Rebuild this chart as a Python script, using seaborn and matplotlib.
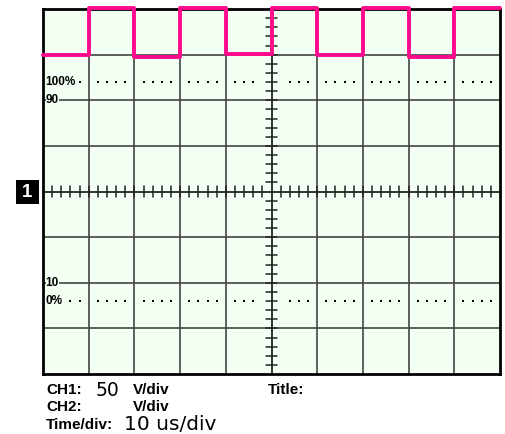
import matplotlib
matplotlib.use("Agg")
import matplotlib.pyplot as plt
import seaborn as sns
import pandas as pd
import numpy as np
from matplotlib.patches import Rectangle

sns.set_theme(style="white")
plt.rcParams['font.family'] = ['Liberation Sans', 'DejaVu Sans']

# ---- data (time in divisions, level in divisions) ----
time_div = [0, 1, 2, 3, 4, 5, 6, 7, 8, 9, 10]
level_div = [2.99, 4.03, 2.95, 4.03, 3.01, 4.03, 2.99, 4.03, 2.95, 4.03, 4.03]

pct_labels = ["100%", "90", "10", "0%"]
pct_levels = [2.4, 2.0, -2.0, -2.4]

ch1_scale = "50"
time_scale = "10 us/div"

W, H = 505, 434
fig = plt.figure(figsize=(W / 100, H / 100), dpi=100)
fig.patch.set_facecolor("white")
x0, x1, y0, y1 = 43, 500, 9, 374
ax = fig.add_axes([x0 / W, 1 - y1 / H, (x1 - x0) / W, (y1 - y0) / H])
ax.set_facecolor("#F3FFF3")
ax.set_xlim(0, 10)
ax.set_ylim(-4, 4)

# grid
for i in range(1, 10):
    if i != 5:
        ax.axvline(i, color="#444444", lw=1.2, zorder=1)
for j in range(-3, 4):
    if j != 0:
        ax.axhline(j, color="#444444", lw=1.2, zorder=1)
ax.axvline(5, color="#111111", lw=1.2, zorder=2)
ax.axhline(0, color="#111111", lw=1.2, zorder=2)

# minor ticks on center lines
for k in range(1, 50):
    xv = k * 0.2
    if abs(xv - 5) > 1e-6:
        ax.plot([xv, xv], [-0.11, 0.11], color="#222222", lw=1.1, zorder=2)
for k in range(1, 40):
    yv = -4 + k * 0.2
    if abs(yv) > 1e-6:
        ax.plot([4.885, 5.115], [yv, yv], color="#222222", lw=1.1, zorder=2)

# dotted 100% / 0% lines
dots_x = []
for d in range(10):
    for k in range(1, 5):
        xv = d + 0.2 * k
        if abs(xv - 5) < 0.25:
            continue
        dots_x.append(xv)
for lvl, first_keep in [(2.4, 0.75), (-2.4, 0.55)]:
    xs = [v for v in dots_x if v > first_keep]
    ax.scatter(xs, [lvl] * len(xs), marker="s", s=2.4, color="black",
               linewidths=0, zorder=3)

# percentage labels
for lab, lvl in zip(pct_labels, pct_levels):
    ax.text(0.06, lvl, lab, fontsize=8.5, fontweight="bold", ha="left",
            va="center", color="black", zorder=4,
            bbox=dict(facecolor="#F3FFF3", edgecolor="none", pad=0.2))

# waveform
df = pd.DataFrame({"t": time_div, "v": level_div})
sns.lineplot(data=df, x="t", y="v", drawstyle="steps-post", color="#FF0A8C",
             lw=2.8, ax=ax, clip_on=False, zorder=5)

ax.set_xticks([])
ax.set_yticks([])
ax.set_xlabel("")
ax.set_ylabel("")
for s in ax.spines.values():
    s.set_visible(True)
    s.set_color("black")
    s.set_linewidth(2.0)

# channel marker
fig.patches.append(Rectangle((16 / W, 1 - 204 / H), 23 / W, 24 / H,
                             transform=fig.transFigure, facecolor="black",
                             edgecolor="none"))
fig.text(27.5 / W, 1 - 192 / H, "1", color="white", fontsize=13.5,
         fontweight="bold", ha="center", va="center")

def ftxt(x, y, s, **kw):
    fig.text(x / W, 1 - y / H, s, ha="left", va="baseline", color="black", **kw)

BF = 11
ftxt(46, 394, "CH1:", fontsize=BF, fontweight="bold")
ftxt(96, 396, ch1_scale, fontsize=13.5, family=["DejaVu Sans"])
ftxt(133, 394, "V/div", fontsize=BF, fontweight="bold")
ftxt(268, 394, "Title:", fontsize=BF, fontweight="bold")
ftxt(46, 411, "CH2:", fontsize=BF, fontweight="bold")
ftxt(133, 411, "V/div", fontsize=BF, fontweight="bold")
ftxt(46, 429, "Time/div:", fontsize=BF, fontweight="bold")
ftxt(124, 430, time_scale, fontsize=14.5, family=["DejaVu Sans"])

fig.savefig("out.png", dpi=100)
